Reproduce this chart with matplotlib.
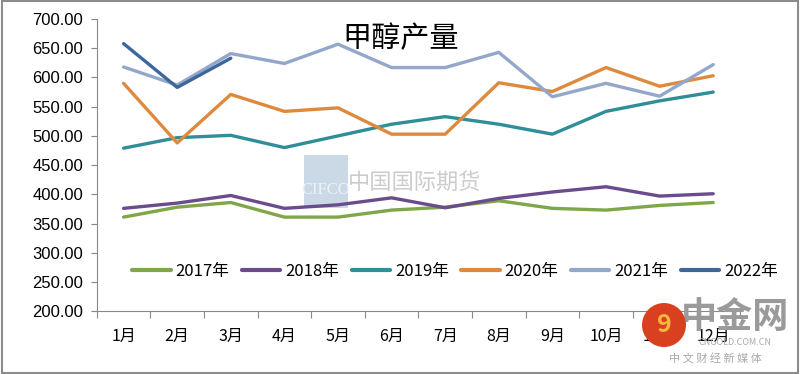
import numpy as np
import matplotlib
matplotlib.use("Agg")
import matplotlib.pyplot as plt
from matplotlib.patches import Rectangle, Ellipse

plt.rcParams["font.family"] = ["Noto Sans CJK SC", "DejaVu Sans"]

months = ["1月", "2月", "3月", "4月", "5月", "6月", "7月", "8月", "9月", "10月", "11月", "12月"]
years = ["2017年", "2018年", "2019年", "2020年", "2021年", "2022年"]

y2017 = [361, 378, 386, 361, 361, 373, 378, 389, 376, 373, 381, 386]
y2018 = [376, 385, 398, 376, 382, 394, 377, 393, 404, 413, 397, 401]
y2019 = [479, 497, 501, 480, 500, 520, 533, 520, 503, 542, 560, 575]
y2020 = [590, 488, 571, 542, 548, 503, 503, 591, 576, 617, 585, 603]
y2021 = [618, 587, 641, 624, 657, 617, 617, 643, 567, 590, 568, 622]
y2022 = [658, 583, 633]

series = [y2017, y2018, y2019, y2020, y2021, y2022]
colors = ["#7FA64A", "#6A4C8C", "#2F8E98", "#DD8A3E", "#93A7CB", "#3D679C"]

fig = plt.figure(figsize=(8, 3.74), dpi=100)
fig.patch.set_facecolor("white")
# grey frame round the whole picture
fig.add_artist(Rectangle((0.002, 0.003), 0.996, 0.994, transform=fig.transFigure,
                         fill=False, edgecolor="#8c8c8c", lw=1.5))

ax = fig.add_axes([0.121, 0.168, 0.804, 0.781])

# watermark first so lines sit on top
ax.add_patch(Rectangle((0.322, 0.353), 0.068, 0.18, transform=ax.transAxes,
                       facecolor="#cbd8e6", edgecolor="none", zorder=0))
ax.text(0.318, 0.40, "CIFCO", transform=ax.transAxes, fontsize=12, color="#edf2f7",
        family=["Liberation Serif", "DejaVu Serif"], zorder=0.5)
ax.text(0.39, 0.44, "中国国际期货", transform=ax.transAxes, fontsize=16, color="#cccccc",
        va="center", zorder=0.5)

x = np.arange(len(months))
for vals, lab, col in zip(series, years, colors):
    ax.plot(x[:len(vals)], vals, color=col, lw=2.4, label=lab, solid_capstyle="round",
            zorder=2)

ax.set_xlim(-0.5, 11.5)
ax.set_ylim(200, 700)
ax.set_yticks(np.arange(200, 701, 50))
ax.set_yticklabels([f"{v:.2f}" for v in np.arange(200, 701, 50)], fontsize=12,
                   family=["Liberation Sans", "DejaVu Sans"])
ax.set_xticks(np.arange(-0.5, 12, 1))
ax.set_xticklabels([])
ax.set_xticks(x, minor=True)
ax.set_xticklabels(months, minor=True, fontsize=11.5)
ax.tick_params(axis="x", which="major", length=5, color="#888888", direction="out")
ax.tick_params(axis="x", which="minor", length=0, pad=12)
ax.tick_params(axis="y", length=4, color="#888888", pad=6)
for s in ["top", "right"]:
    ax.spines[s].set_visible(False)
for s in ["left", "bottom"]:
    ax.spines[s].set_color("#888888")

ax.text(0.472, 0.93, "甲醇产量", transform=ax.transAxes, fontsize=21,
        ha="center", va="center")

leg = ax.legend(loc="center", bbox_to_anchor=(0.557, 0.135), ncol=6, frameon=False,
                fontsize=12, handlelength=2.3, columnspacing=0.75, handletextpad=0.3)
for line in leg.get_lines():
    line.set_linewidth(3)

# cngold logo, bottom right (sits over the 11月 label as in the source)
fig.add_artist(Ellipse((0.83, 0.131), 2 * 22 / 800, 2 * 22 / 374, transform=fig.transFigure,
                       facecolor="#d9401f", edgecolor="none", zorder=5))
fig.text(0.83, 0.131, "9", ha="center", va="center", fontsize=18, color="#f4b63c",
         fontweight="bold", zorder=6)
fig.text(0.919, 0.15, "中金网", ha="center", va="center", fontsize=26, color="#9a9a9a",
         fontweight="bold", zorder=1)
fig.text(0.919, 0.083, "CNGOLD.COM.CN", ha="center", va="center", fontsize=6.5,
         color="#aaaaaa", zorder=1)
fig.text(0.894, 0.042, "中 文 财 经 新 媒 体", ha="center", va="center", fontsize=8,
         color="#aaaaaa", zorder=1)

fig.savefig("out.png", dpi=100)
